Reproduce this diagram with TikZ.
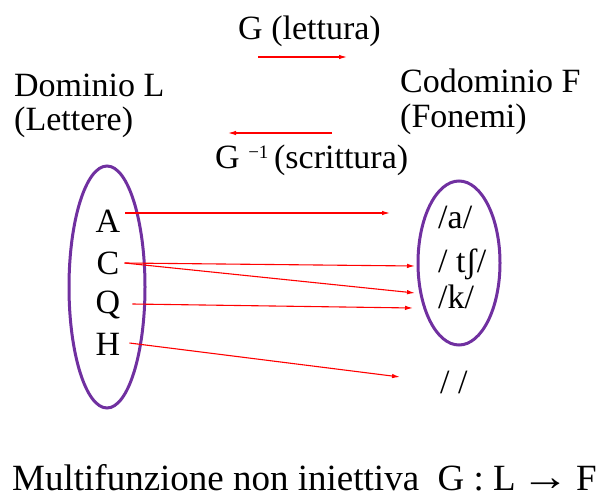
\documentclass[tikz,border=0pt]{standalone}
\usepackage{graphicx}
\usepackage{fontspec}
\setmainfont{Liberation Serif}
\usetikzlibrary{arrows.meta}

\tikzset{
  txt/.style={inner sep=0pt, font=\fontsize{34}{36}\selectfont},
  letter/.style={txt, text height=22pt, text depth=0pt},
  phon/.style={letter, anchor=west},
  map/.style={draw=red, line width=1.1pt, -{Latex[length=8pt,width=4.5pt]}},
  setline/.style={draw={rgb,255:red,112;green,48;blue,160}, line width=3pt}
}

\begin{document}
\begin{tikzpicture}[x=1pt,y=-1pt]
\useasboundingbox (0,0) rectangle (596,500);

% Titles of the two sets
\node[txt, anchor=base west] (dom) at (14,97) {Dominio L};
\node[txt, anchor=base west] (domsub) at (14,130) {(Lettere)};
\node[txt, anchor=base west] (cod) at (400,93) {Codominio F};
\node[txt, anchor=base west] (codsub) at (400,128) {(Fonemi)};

% Reading and writing directions
\node[txt, anchor=base west] (lett) at (238,40) {G (lettura)};
\node[txt, anchor=base west] (scri) at (215,168)
  {G \raisebox{10pt}{\fontsize{19}{19}\selectfont −1}\,(scrittura)};
\coordinate (lettL) at (258,57);
\coordinate (lettR) at (347,57);
\coordinate (scriR) at (332,133);
\coordinate (scriL) at (228,133);
\draw[map] (lettL) -- (lettR);
\draw[map] (scriR) -- (scriL);

% Draw the two sets
\draw[setline] (107,287) ellipse (38 and 121);
\draw[setline] (459,263) ellipse (41 and 82);

% Letters
\node[letter] (A) at (108,221) {A};
\node[letter] (C) at (108,263) {C};
\node[letter] (Q) at (108,302) {Q};
\node[letter] (H) at (108,344) {H};

% Phonemes
\node[phon] (pa) at (438,217) {/a/};
\node[phon] (ptsh) at (438,261) {/ tʃ/};
\node[phon] (pk) at (438,297) {/k/};
\node[phon] (pnull) at (440,382) {/ /};

% Draw the mapping
\draw[map] ([shift={(5,-8)}]A.east) -- ([shift={(-48,-4)}]pa.west);
\draw[map] ([shift={(5,0)}]C.east) -- ([shift={(-23,5)}]ptsh.west);
\draw[map] ([shift={(5,0)}]C.east) -- ([shift={(-23,-4)}]pk.west);
\draw[map] ([shift={(12,2)}]Q.east) -- ([shift={(-25,11)}]pk.west);
\draw[map] ([shift={(9,-1)}]H.east) -- ([shift={(-40,-5)}]pnull.west);

% Caption
\node[txt, anchor=base west, font=\fontsize{37}{40}\selectfont] (capt) at (12,490)
  {Multifunzione non iniettiva\enspace G : L\,\scalebox{1.3}[1.1]{→}\,F};

\end{tikzpicture}
\end{document}
